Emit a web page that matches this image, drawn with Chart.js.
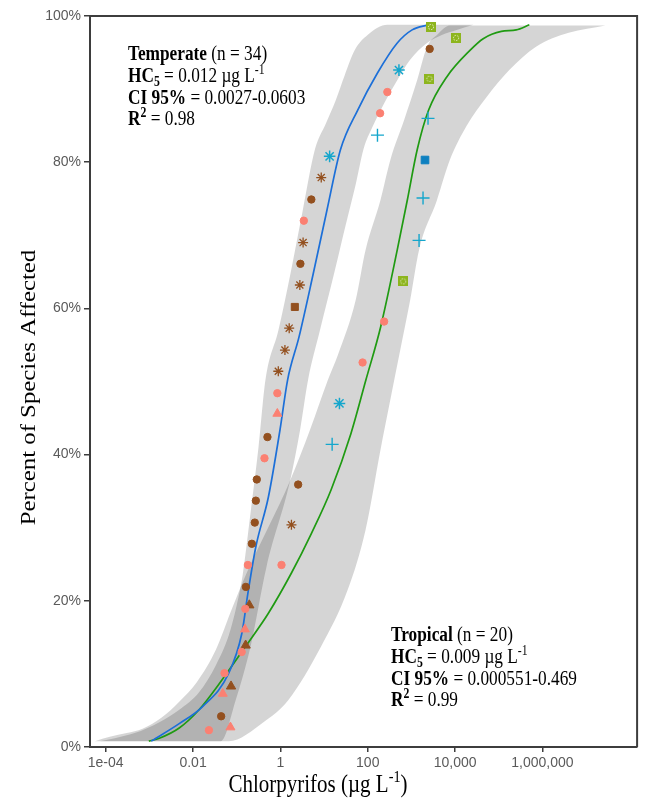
<!DOCTYPE html>
<html lang="en">
<head>
    <meta charset="UTF-8">
    <title>Chlorpyrifos SSD</title>
    <style>
        body { margin: 0; background: #fff; }
        .chartBox { width: 645px; height: 803px; }
    </style>
</head>
<body>
<div class="chartBox">
    <canvas id="myChart" width="645" height="803"></canvas>
</div>
<script src="https://cdn.jsdelivr.net/npm/chart.js"></script>
<script>
    // axis setup
    const xTickValues = [1e-4, 0.01, 1, 100, 10000, 1000000];
    const xTickLabels = ['1e-04', '0.01', '1', '100', '10,000', '1,000,000'];
    const xMin = 4.37e-5;
    const xMax = 1.47e8;

    // temperate species (concentration ug/L, percent affected, marker group)
    const tempConc = [0.0231, 0.044, 0.048, 0.0525, 0.13, 0.154, 0.157, 0.162, 0.18, 0.222, 0.259, 0.274, 0.288, 0.432, 0.505, 0.851, 0.851, 0.895, 1.27, 1.59, 2.14, 2.79, 2.87, 3.31, 3.44, 5.11, 8.61, 13.4, 167, 192, 281, 518, 2618, 2805];
    const tempPct = [2.3, 4.2, 7.3, 10.1, 13.0, 16.1, 18.9, 21.9, 24.9, 27.8, 30.7, 33.7, 36.6, 39.5, 42.4, 45.6, 48.4, 51.4, 54.3, 57.3, 60.2, 63.2, 66.1, 69.0, 72.0, 74.9, 77.9, 80.8, 83.7, 86.7, 89.6, 92.6, 95.5, 98.5];
    const tempMarker = ['circS', 'circB', 'triS', 'circS', 'circS', 'triS', 'circS', 'circB', 'circS', 'circB', 'circB', 'circB', 'circB', 'circS', 'circB', 'triS', 'circS', 'starB', 'starB', 'starB', 'sqB', 'starB', 'circB', 'starB', 'circS', 'circB', 'starB', 'starC', 'plusC', 'circS', 'circS', 'starC', 'circB', 'sqG'];

    // tropical species
    const tropConc = [0.0718, 0.0741, 0.16, 0.194, 1.06, 1.79, 2.55, 15.3, 22.5, 76.2, 237, 649, 1496, 1845, 2046, 2399, 2582, 10520];
    const tropPct = [2.7, 8.3, 13.9, 19.4, 24.9, 30.4, 35.9, 41.4, 47.0, 52.6, 58.2, 63.7, 69.3, 75.1, 80.3, 86.0, 91.4, 97.0];
    const tropMarker = ['triS', 'triB', 'triB', 'triB', 'circS', 'starB', 'circB', 'plusC', 'starC', 'circS', 'circS', 'sqG', 'plusC', 'plusC', 'sqBl', 'plusC', 'sqG', 'sqG'];

    // fitted curves
    const tempFitConc = [0.0011, 0.00482, 0.0163, 0.0657, 0.1316, 0.18, 0.274, 0.531, 0.98, 1.46, 2.67, 5.58, 11.7, 23.7, 58.6, 167, 474, 1038, 2483];
    const tempFitPct = [0.8, 3.2, 5.5, 10.1, 15.6, 21.0, 27.4, 34.2, 43.4, 50.2, 56.1, 64.6, 73.5, 81.7, 87.1, 92.2, 96.3, 98.1, 98.8];
    const tropFitConc = [0.00097, 0.00169, 0.00482, 0.0137, 0.0463, 0.157, 0.531, 1.79, 5.11, 14.5, 41.3, 90.6, 198, 474, 804, 1355, 2466, 6501, 21900, 44000, 114600, 251000, 501000];
    const tropFitPct = [0.8, 1.2, 2.6, 5.1, 9.2, 13.7, 18.3, 23.8, 29.2, 35.2, 42.9, 50.2, 57.5, 68.0, 74.8, 81.7, 87.1, 91.7, 95.3, 96.9, 97.9, 98.1, 98.8];

    // confidence bands (lower/right edge and upper/left edge)
    const tempBandLoConc = [7.36e-5, 0.0432, 0.0947, 0.207, 0.479, 1.68, 2.83, 4.30, 8.05, 16.7, 31.3, 52.8, 80.2, 128, 240, 474, 935, 2275, 4980, 10910, 26500];
    const tempBandLoPct = [0.8, 0.8, 6.4, 13.7, 24.6, 36.5, 43.4, 50.2, 57.0, 64.6, 71.4, 76.9, 81.8, 84.8, 88.1, 91.2, 94.0, 96.3, 97.4, 98.1, 98.8];
    const tempBandHiConc = [7.36e-5, 1.61e-4, 4.58e-4, 1.69e-3, 4.82e-3, 0.0137, 0.0333, 0.0657, 0.0998, 0.1365, 0.207, 0.315, 0.454, 0.9, 1.68, 3.22, 6.2, 11.0, 18.6, 29.7, 50.1, 98.9, 281, 26500];
    const tempBandHiPct = [0.8, 1.2, 1.9, 3.4, 5.1, 7.5, 11.2, 15.3, 19.4, 23.5, 32.0, 41.0, 50.2, 57.0, 64.6, 73.3, 81.8, 85.3, 88.5, 91.9, 95.3, 97.4, 98.8, 98.8];
    const tropBandLoConc = [5.67e-5, 0.0657, 0.409, 1.51, 8.48, 34.8, 89.1, 195, 329, 555, 935, 1497, 3837, 7568, 18400, 52300, 174000, 713000, 4.0e6, 2.77e7];
    const tropBandLoPct = [0.8, 0.8, 3.4, 6.4, 13.7, 21.5, 29.7, 40.6, 47.5, 54.3, 61.1, 68.0, 74.8, 80.3, 85.0, 88.9, 92.6, 95.8, 97.7, 98.7];
    const tropBandHiConc = [5.67e-5, 1.24e-4, 3.02e-4, 6.97e-4, 1.88e-3, 4.82e-3, 0.0123, 0.0333, 0.0729, 0.16, 1.68, 4.77, 12.2, 20.6, 52.8, 89.1, 195, 329, 684, 1349, 2275, 3837, 7568, 2.77e7];
    const tropBandHiPct = [0.8, 1.4, 1.9, 2.5, 4.0, 6.2, 8.9, 13.3, 18.5, 23.5, 36.5, 43.4, 50.2, 53.6, 61.1, 68.0, 74.8, 80.3, 85.8, 91.2, 95.8, 97.4, 98.7, 98.7];

    const axisColor = '#3d3d3d';
    const bandColor = 'rgba(0, 0, 0, 0.165)';
    const salmon = '#fb8072';
    const brown = '#93501f';
    const cyan = '#14a6cc';

    function greenSquare() {
        const c = document.createElement('canvas');
        c.width = 10;
        c.height = 10;
        const g = c.getContext('2d');
        g.fillStyle = '#8db51e';
        g.fillRect(0, 0, 10, 10);
        g.strokeStyle = '#f2f7dc';
        g.lineWidth = 1;
        g.setLineDash([1.3, 1.3]);
        g.beginPath();
        g.arc(5, 5, 2.6, 0, Math.PI * 2);
        g.stroke();
        return c;
    }

    const markers = {
        circS: {style: 'circle', r: 3.7, fill: salmon, line: salmon, w: 1},
        triS: {style: 'triangle', r: 5.2, fill: salmon, line: salmon, w: 1},
        circB: {style: 'circle', r: 3.7, fill: brown, line: brown, w: 1},
        triB: {style: 'triangle', r: 5.4, fill: brown, line: brown, w: 1},
        starB: {style: 'star', r: 5, fill: brown, line: brown, w: 1.3},
        sqB: {style: 'rect', r: 5, fill: brown, line: brown, w: 1},
        starC: {style: 'star', r: 5.8, fill: cyan, line: cyan, w: 1.5},
        plusC: {style: 'cross', r: 6.5, fill: cyan, line: cyan, w: 1.4},
        sqBl: {style: 'rect', r: 5.4, fill: '#0e80c0', line: '#0e80c0', w: 1},
        sqG: {style: greenSquare(), r: 5, fill: '#8db51e', line: '#8db51e', w: 1}
    };

    const zip = (xs, ys) => xs.map((x, i) => ({x: x, y: ys[i]}));

    function pointSet(label, conc, pct, groups) {
        return {
            label: label,
            data: zip(conc, pct),
            pointStyle: groups.map(g => markers[g].style),
            pointRadius: groups.map(g => markers[g].r),
            pointBackgroundColor: groups.map(g => markers[g].fill),
            pointBorderColor: groups.map(g => markers[g].line),
            pointBorderWidth: groups.map(g => markers[g].w),
            showLine: false,
            order: 1
        };
    }

    const bandStyle = {
        showLine: true,
        pointRadius: 0,
        borderWidth: 0,
        borderColor: 'transparent',
        cubicInterpolationMode: 'monotone',
        order: 3
    };

    // text drawn with a slight vertical stretch like the original figure
    const serif = '"Liberation Serif", "Times New Roman", serif';
    function drawRich(ctx, runs, size, sx, sy, align) {
        ctx.save();
        ctx.scale(sx, sy);
        const fontOf = r => (r.b ? 'bold ' : '') + ((r.sub || r.sup) ? size * 0.68 : size) + 'px ' + serif;
        let total = 0;
        runs.forEach(r => { ctx.font = fontOf(r); total += ctx.measureText(r.t).width; });
        let cx = align === 'center' ? -total / 2 : 0;
        ctx.textBaseline = 'alphabetic';
        ctx.textAlign = 'left';
        ctx.fillStyle = '#000';
        runs.forEach(r => {
            ctx.font = fontOf(r);
            const dy = r.sub ? size * 0.2 : (r.sup ? -size * 0.38 : 0);
            ctx.fillText(r.t, cx, dy);
            cx += ctx.measureText(r.t).width;
        });
        ctx.restore();
    }

    const tempNotes = [
        [{t: 'Temperate', b: 1}, {t: ' (n = 34)'}],
        [{t: 'HC', b: 1}, {t: '5', b: 1, sub: 1}, {t: ' = 0.012 \u00b5g L'}, {t: '-1', sup: 1}],
        [{t: 'CI 95%', b: 1}, {t: ' = 0.0027-0.0603'}],
        [{t: 'R', b: 1}, {t: '2', b: 1, sup: 1}, {t: ' = 0.98'}]
    ];
    const tropNotes = [
        [{t: 'Tropical', b: 1}, {t: ' (n = 20)'}],
        [{t: 'HC', b: 1}, {t: '5', b: 1, sub: 1}, {t: ' = 0.009 \u00b5g L'}, {t: '-1', sup: 1}],
        [{t: 'CI 95%', b: 1}, {t: ' = 0.000551-0.469'}],
        [{t: 'R', b: 1}, {t: '2', b: 1, sup: 1}, {t: ' = 0.99'}]
    ];

    const textLayer = {
        id: 'textLayer',
        afterDraw(chart) {
            const {ctx, chartArea: a} = chart;
            // frame: top and right edges
            ctx.save();
            ctx.strokeStyle = axisColor;
            ctx.lineWidth = 2;
            ctx.beginPath();
            ctx.moveTo(a.left, a.top);
            ctx.lineTo(a.right, a.top);
            ctx.lineTo(a.right, a.bottom);
            ctx.stroke();
            ctx.restore();

            const gaps = [0, 22, 44, 65];
            gaps.forEach((g, i) => {
                ctx.save();
                ctx.translate(a.left + 38, a.top + 44 + g);
                drawRich(ctx, tempNotes[i], 17.3, 1, 1.2, 'left');
                ctx.restore();
                ctx.save();
                ctx.translate(a.left + 301, a.top + 625 + g);
                drawRich(ctx, tropNotes[i], 17.3, 1, 1.2, 'left');
                ctx.restore();
            });

            // axis titles
            ctx.save();
            ctx.translate(318, a.bottom + 45);
            drawRich(ctx, [{t: 'Chlorpyrifos (\u00b5g L'}, {t: '-1', sup: 1}, {t: ')'}], 21, 1, 1.2, 'center');
            ctx.restore();
            ctx.save();
            ctx.translate(35, (a.top + a.bottom) / 2 + 6);
            ctx.rotate(-Math.PI / 2);
            drawRich(ctx, [{t: 'Percent of Species Affected'}], 21, 1.18, 1, 'center');
            ctx.restore();
        }
    };

    const data = {
        datasets: [
            Object.assign({label: 'Temperate CI lower', data: zip(tempBandLoConc, tempBandLoPct), fill: false}, bandStyle),
            Object.assign({label: 'Temperate CI upper', data: zip(tempBandHiConc, tempBandHiPct), fill: '-1', backgroundColor: bandColor}, bandStyle),
            Object.assign({label: 'Tropical CI lower', data: zip(tropBandLoConc, tropBandLoPct), fill: false}, bandStyle),
            Object.assign({label: 'Tropical CI upper', data: zip(tropBandHiConc, tropBandHiPct), fill: '-1', backgroundColor: bandColor}, bandStyle),
            {
                label: 'Temperate fit',
                data: zip(tempFitConc, tempFitPct),
                showLine: true,
                pointRadius: 0,
                borderColor: '#1c6fd8',
                borderWidth: 1.7,
                cubicInterpolationMode: 'monotone',
                order: 2
            },
            {
                label: 'Tropical fit',
                data: zip(tropFitConc, tropFitPct),
                showLine: true,
                pointRadius: 0,
                borderColor: '#1f9a12',
                borderWidth: 1.7,
                cubicInterpolationMode: 'monotone',
                order: 2
            },
            pointSet('Temperate', tempConc, tempPct, tempMarker),
            pointSet('Tropical', tropConc, tropPct, tropMarker)
        ]
    };

    const tickFont = {family: '"Liberation Sans", Arial, sans-serif', size: 14};

    const config = {
        type: 'scatter',
        data: data,
        options: {
            responsive: false,
            animation: false,
            layout: {padding: {top: 16, right: 3, left: 0, bottom: 0}},
            plugins: {
                legend: {display: false},
                tooltip: {enabled: false}
            },
            scales: {
                x: {
                    type: 'logarithmic',
                    min: xMin,
                    max: xMax,
                    afterBuildTicks: (scale) => { scale.ticks = xTickValues.map(v => ({value: v})); },
                    afterFit: (scale) => { scale.height = 56; },
                    grid: {drawOnChartArea: false, drawTicks: true, tickLength: 5, color: axisColor, lineWidth: 1.5},
                    border: {display: true, color: axisColor, width: 2},
                    ticks: {
                        autoSkip: false,
                        maxRotation: 0,
                        minRotation: 0,
                        padding: 3,
                        color: '#5a5a5a',
                        font: tickFont,
                        callback: (value) => xTickLabels[xTickValues.indexOf(value)]
                    }
                },
                y: {
                    type: 'linear',
                    min: 0,
                    max: 100,
                    afterFit: (scale) => { scale.width = 90; },
                    grid: {drawOnChartArea: false, drawTicks: true, tickLength: 6, color: axisColor, lineWidth: 1.5},
                    border: {display: true, color: axisColor, width: 2},
                    ticks: {
                        stepSize: 20,
                        padding: 3,
                        color: '#5a5a5a',
                        font: tickFont,
                        callback: (value) => value + '%'
                    }
                }
            }
        },
        plugins: [textLayer]
    };

    const myChart = new Chart(document.getElementById('myChart'), config);
</script>
</body>
</html>
